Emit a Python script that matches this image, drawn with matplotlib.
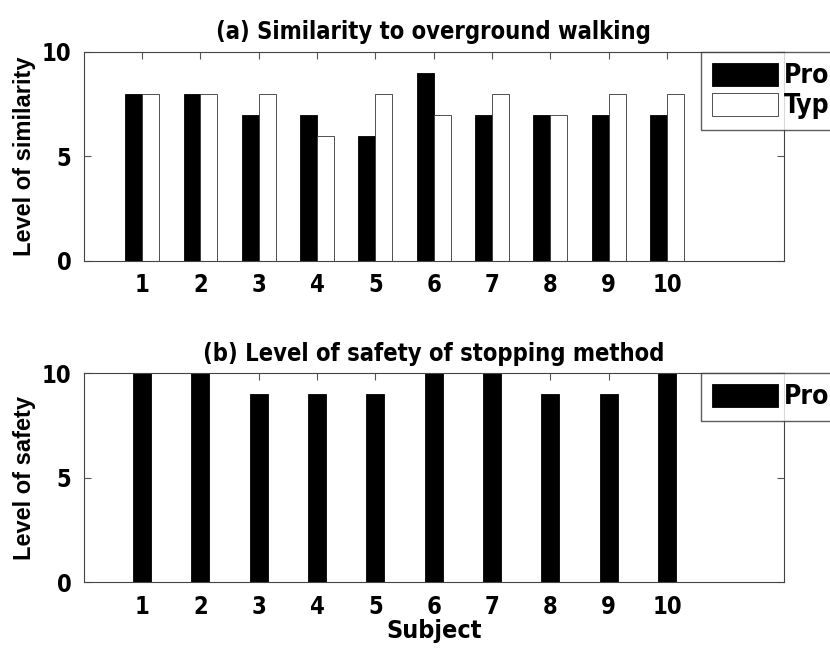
import matplotlib.pyplot as plt
import numpy as np

subjects = [1, 2, 3, 4, 5, 6, 7, 8, 9, 10]
sim_proposed = [8, 8, 7, 7, 6, 9, 7, 7, 7, 7]
sim_typical = [8, 8, 8, 6, 8, 7, 8, 7, 8, 8]
safety_proposed = [10, 10, 9, 9, 9, 10, 10, 9, 9, 10]

plt.rcParams['font.family'] = ['DejaVu Sans']
plt.rcParams['font.stretch'] = 'condensed'
plt.rcParams['font.weight'] = 'bold'

fig = plt.figure(figsize=(8.3, 6.49), dpi=100)
ax1 = fig.add_axes([0.101, 0.598, 0.843, 0.322])
ax2 = fig.add_axes([0.101, 0.103, 0.843, 0.322])

x = np.array(subjects)
w = 0.29


def style(ax, ylabel):
    ax.set_xlim(0, 12)
    ax.set_ylim(0, 10)
    ax.set_xticks(subjects)
    ax.set_yticks([0, 5, 10])
    ax.set_axisbelow(True)
    ax.tick_params(direction='in', top=True, right=True, length=5,
                   width=0.8, color='#555555', labelsize=17, pad=9)
    for lab in ax.get_xticklabels() + ax.get_yticklabels():
        lab.set_fontweight('bold')
    for s in ax.spines.values():
        s.set_color('#444444')
        s.set_linewidth(0.8)
    ax.set_ylabel(ylabel, fontsize=17, fontweight='bold',
                  family='Liberation Sans', fontstretch='normal', labelpad=4)


def add_legend(ax, top):
    ax.legend(loc='upper left', bbox_to_anchor=(701 / 830, 1 - top / 649),
              bbox_transform=fig.transFigure, fontsize=19, frameon=True,
              fancybox=False, edgecolor='#333333', handlelength=2.5,
              handleheight=1.0, borderaxespad=0, borderpad=0.4,
              labelspacing=0.12, handletextpad=0.25)


# (a) similarity
ax1.bar(x - w / 2, sim_proposed, w, color='black', edgecolor='black',
        linewidth=0.6, label='Proposed')
ax1.bar(x + w / 2, sim_typical, w, color='white', edgecolor='#333333',
        linewidth=0.6, label='Typical')
style(ax1, 'Level of similarity')
ax1.set_title('(a) Similarity to overground walking', fontsize=17,
              fontweight='bold', pad=9)
add_legend(ax1, 52)

# (b) safety
ax2.bar(x, safety_proposed, 0.31, color='black', edgecolor='black',
        linewidth=0.6, label='Proposed')
style(ax2, 'Level of safety')
ax2.set_title('(b) Level of safety of stopping method', fontsize=17,
              fontweight='bold', pad=9)
ax2.set_xlabel('Subject', fontsize=18, fontweight='bold', labelpad=0)
add_legend(ax2, 373)

fig.savefig('out.png', dpi=100)
